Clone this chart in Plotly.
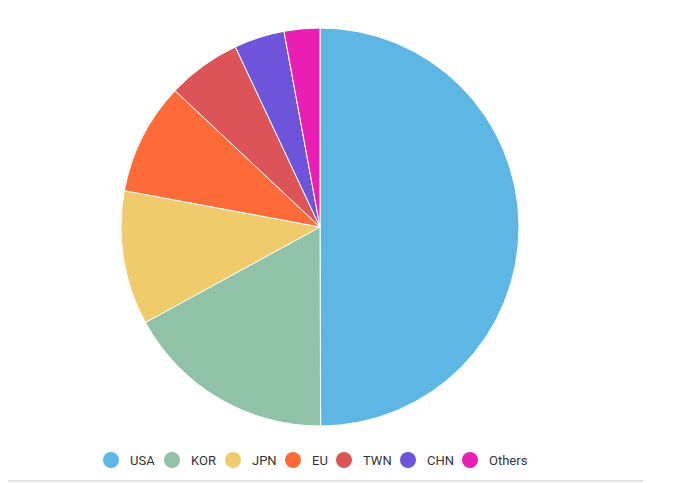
import plotly.graph_objects as go

labels = ["USA", "KOR", "JPN", "EU", "TWN", "CHN", "Others"]
shares = [50.0, 17.1, 10.9, 9.1, 6.0, 4.1, 2.9]
colors = ["#5EB6E5", "#8FC2A7", "#F0CB6B", "#FF6B38", "#DC5457", "#6E54DB", "#EA1DB4"]

# figure size (page body has an 8px default margin)
W, H = 690, 475

# legend layout: symbol centres (px from left), row centre (px from top)
legend_x = [103, 164, 225, 285, 336, 400, 462]
legend_y = 452

fig = go.Figure()

fig.add_trace(go.Pie(
    labels=labels, values=shares,
    marker=dict(colors=colors, line=dict(color="white", width=1)),
    sort=False, direction="clockwise", rotation=0,
    textinfo="none", showlegend=False,
    domain=dict(x=[113 / W, 511 / W], y=[1 - 418 / H, 1 - 20 / H]),
    hovertemplate="%{label}: %{value}%<extra></extra>",
))

# hand-made legend with round markers
shapes = []
annotations = []
py = 1 - legend_y / H
for name, c, cx in zip(labels, colors, legend_x):
    shapes.append(dict(type="circle", xref="paper", yref="paper",
                       x0=(cx - 8) / W, x1=(cx + 8) / W,
                       y0=py - 8 / H, y1=py + 8 / H,
                       fillcolor=c, line=dict(width=0)))
    annotations.append(dict(text=name, xref="paper", yref="paper",
                            x=(cx + 17) / W, y=py, xanchor="left", yanchor="middle",
                            showarrow=False,
                            font=dict(family="Roboto", size=13, color="#333")))

# light baseline under the chart
shapes.append(dict(type="line", xref="paper", yref="paper",
                   x0=0, x1=635 / W, y0=1 - 473 / H, y1=1 - 473 / H,
                   line=dict(color="#DCDCDC", width=1.5)))

fig.update_layout(
    width=W, height=H,
    margin=dict(l=0, r=0, t=0, b=0),
    paper_bgcolor="white", plot_bgcolor="white",
    font=dict(family="Roboto", size=13, color="#333"),
    showlegend=False,
    shapes=shapes, annotations=annotations,
)

fig.write_html("out.html")
